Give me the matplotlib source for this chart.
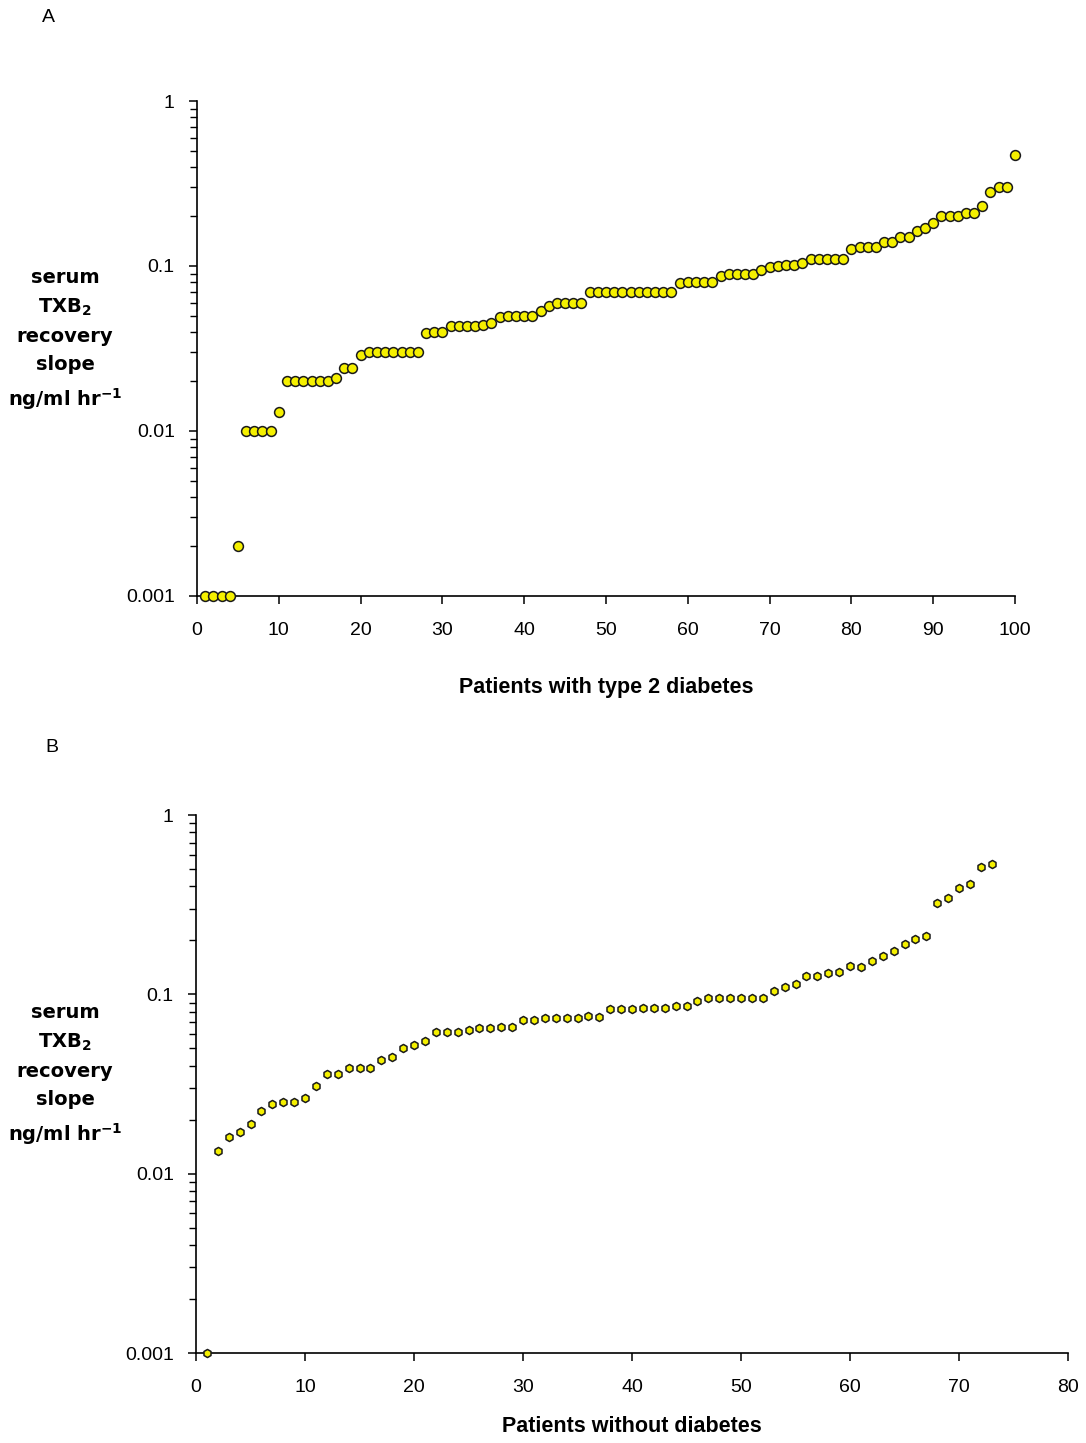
import matplotlib
matplotlib.use("Agg")
import matplotlib.pyplot as plt
from matplotlib.ticker import LogLocator, FixedLocator, FixedFormatter, NullFormatter
import numpy as np

plt.rcParams['font.family'] = ['Liberation Sans', 'DejaVu Sans']
plt.rcParams['mathtext.default'] = 'regular'

# Panel A: patients with type 2 diabetes (sorted slopes)
slopes_a = ([0.001] * 4 + [0.002] + [0.01] * 4 + [0.013] + [0.02] * 6 + [0.021] +
            [0.024] * 2 + [0.029] + [0.03] * 7 + [0.039] + [0.04] * 2 + [0.043] * 4 +
            [0.044, 0.045, 0.049] + [0.05] * 4 + [0.053, 0.057] + [0.06] * 4 +
            [0.07] * 11 + [0.079] + [0.08] * 4 + [0.087] + [0.09] * 4 + [0.094, 0.098, 0.1] +
            [0.102] * 2 + [0.105] + [0.11] * 5 + [0.126] + [0.13] * 3 + [0.14] * 2 +
            [0.15] * 2 + [0.163, 0.171, 0.183] + [0.2] * 3 + [0.21] * 2 + [0.23, 0.28] +
            [0.3] * 2 + [0.47])
patients_a = list(range(1, len(slopes_a) + 1))

# Panel B: patients without diabetes (sorted slopes)
slopes_b = [0.001, 0.0133, 0.016, 0.017, 0.019, 0.0225, 0.0246, 0.025, 0.025, 0.0264,
            0.031, 0.036, 0.036, 0.039, 0.039, 0.039, 0.043, 0.045, 0.05, 0.052,
            0.055, 0.062, 0.062, 0.062, 0.0636, 0.065, 0.065, 0.066, 0.066, 0.072,
            0.072, 0.074, 0.074, 0.074, 0.074, 0.076, 0.075, 0.083, 0.083, 0.083,
            0.084, 0.084, 0.084, 0.086, 0.086, 0.092, 0.095, 0.095, 0.095, 0.095,
            0.095, 0.096, 0.105, 0.11, 0.114, 0.126, 0.126, 0.131, 0.134, 0.143,
            0.142, 0.153, 0.164, 0.174, 0.19, 0.203, 0.212, 0.323, 0.344, 0.391,
            0.412, 0.51, 0.535]
patients_b = list(range(1, len(slopes_b) + 1))

y_ticks = [0.001, 0.01, 0.1, 1]
y_tick_labels = ['0.001', '0.01', '0.1', '1']
x_ticks_a = list(range(0, 101, 10))
x_ticks_b = list(range(0, 81, 10))

W, H = 1086, 1443
fig = plt.figure(figsize=(W / 100, H / 100), dpi=100)

ylabel = 'serum\nTXB$_2$\nrecovery\nslope\nng/ml hr$^{-1}$'
tick_family = ['Liberation Sans', 'DejaVu Sans']
label_family = ['DejaVu Sans']


def setup(ax, xmax, xticks):
    ax.set_yscale('log')
    ax.set_ylim(0.001, 1)
    ax.set_xlim(0, xmax)
    for s in ['top', 'right']:
        ax.spines[s].set_visible(False)
    for s in ['left', 'bottom']:
        ax.spines[s].set_linewidth(1.2)
        ax.spines[s].set_color('black')
    ax.yaxis.set_major_locator(FixedLocator(y_ticks))
    ax.yaxis.set_major_formatter(FixedFormatter(y_tick_labels))
    ax.yaxis.set_minor_locator(LogLocator(base=10, subs=np.arange(2, 10)))
    ax.yaxis.set_minor_formatter(NullFormatter())
    ax.set_xticks(xticks)
    ax.set_xticklabels([str(t) for t in xticks])
    ax.tick_params(axis='both', which='major', direction='out', length=6, width=1.1,
                   labelsize=14, colors='black')
    ax.tick_params(axis='x', which='major', pad=13)
    ax.tick_params(axis='y', which='major', pad=10)
    ax.tick_params(axis='y', which='minor', direction='out', length=5, width=1.0)
    ax.tick_params(axis='x', which='minor', length=0)
    for lab in ax.get_xticklabels() + ax.get_yticklabels():
        lab.set_family(tick_family)


# Panel A
axA = fig.add_axes([197 / W, 1 - 596 / H, (1015 - 197) / W, (596 - 101) / H])
setup(axA, 100, x_ticks_a)
axA.scatter(patients_a, slopes_a, s=50, marker='o', facecolor='#f5f000',
            edgecolor='#1a1a1a', linewidths=1.1, zorder=3, clip_on=False)
axA.set_xlabel('Patients with type 2 diabetes', fontsize=15.5, fontweight='bold',
               labelpad=27)
fig.text(65 / W, 1 - 340 / H, ylabel, ha='center', va='center', fontsize=14,
         fontweight='bold', linespacing=1.62, family=label_family)
fig.text(48 / W, 1 - 18 / H, 'A', ha='center', va='center', fontsize=14)

# Panel B
axB = fig.add_axes([196 / W, 1 - 1353 / H, (1068 - 196) / W, (1353 - 815) / H])
setup(axB, 80, x_ticks_b)
axB.scatter(patients_b, slopes_b, s=34, marker='h', facecolor='#f5f000',
            edgecolor='#1a1a1a', linewidths=1.1, zorder=3, clip_on=False)
axB.set_xlabel('Patients without diabetes', fontsize=15.5, fontweight='bold', labelpad=14)
fig.text(65 / W, 1 - 1075 / H, ylabel, ha='center', va='center', fontsize=14,
         fontweight='bold', linespacing=1.62, family=label_family)
fig.text(52 / W, 1 - 748 / H, 'B', ha='center', va='center', fontsize=14)

fig.savefig('out.png', dpi=100, facecolor='white')
